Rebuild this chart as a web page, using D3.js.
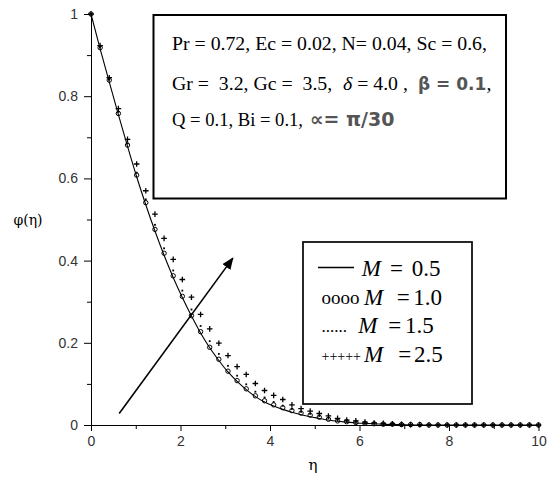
<!DOCTYPE html>
<html>
<head>
<meta charset="utf-8">
<script src="https://cdn.jsdelivr.net/npm/d3@7"></script>
<style>
  body { margin: 0; background: #fff; }
  svg { display: block; }
</style>
</head>
<body>
<svg id="chart" width="560" height="480"></svg>
<script>
// eta grid (50 points from 0 to 10)
var eta = [0, 0.204, 0.408, 0.612, 0.816, 1.020, 1.224, 1.429, 1.633, 1.837,
    2.041, 2.245, 2.449, 2.653, 2.857, 3.061, 3.265, 3.469, 3.673, 3.878,
    4.082, 4.286, 4.490, 4.694, 4.898, 5.102, 5.306, 5.510, 5.714, 5.918,
    6.122, 6.327, 6.531, 6.735, 6.939, 7.143, 7.347, 7.551, 7.755, 7.959,
    8.163, 8.367, 8.571, 8.776, 8.980, 9.184, 9.388, 9.592, 9.796, 10];

// phi(eta) for each M
var phiM05 = [1, 0.915, 0.835, 0.755, 0.678, 0.604, 0.536, 0.472, 0.413, 0.359,
    0.310, 0.265, 0.224, 0.188, 0.157, 0.129, 0.106, 0.086, 0.069, 0.056,
    0.046, 0.038, 0.031, 0.025, 0.020, 0.016, 0.012, 0.009, 0.007, 0.005,
    0.004, 0.003, 0.002, 0.001, 0.001, 0, 0, 0, 0, 0,
    0, 0, 0, 0, 0, 0, 0, 0, 0, 0];
var phiM10 = [1, 0.918, 0.839, 0.758, 0.681, 0.608, 0.541, 0.476, 0.418, 0.363,
    0.313, 0.266, 0.227, 0.189, 0.160, 0.131, 0.108, 0.088, 0.071, 0.059,
    0.049, 0.042, 0.035, 0.029, 0.024, 0.019, 0.014, 0.010, 0.008, 0.006,
    0.004, 0.003, 0.002, 0.002, 0.001, 0.001, 0.001, 0, 0, 0,
    0, 0, 0, 0, 0, 0, 0, 0, 0, 0];
var phiM15 = [1, 0.920, 0.841, 0.762, 0.685, 0.614, 0.549, 0.487, 0.430, 0.376,
    0.327, 0.281, 0.241, 0.204, 0.173, 0.144, 0.120, 0.099, 0.081, 0.067,
    0.056, 0.047, 0.039, 0.032, 0.027, 0.022, 0.017, 0.013, 0.010, 0.008,
    0.006, 0.004, 0.003, 0.002, 0.002, 0.001, 0.001, 0, 0, 0,
    0, 0, 0, 0, 0, 0, 0, 0, 0, 0];
var phiM25 = [1, 0.923, 0.845, 0.770, 0.695, 0.635, 0.570, 0.513, 0.454, 0.403,
    0.354, 0.311, 0.269, 0.234, 0.199, 0.169, 0.142, 0.123, 0.101, 0.084,
    0.072, 0.062, 0.049, 0.040, 0.034, 0.028, 0.022, 0.016, 0.012, 0.010,
    0.007, 0.005, 0.004, 0.003, 0.002, 0.001, 0.001, 0, 0, 0,
    0, 0, 0, 0, 0, 0, 0, 0, 0, 0];

var xTicks = [0, 2, 4, 6, 8, 10];
var xMinor = [1, 3, 5, 7, 9];
var yTicks = [0, 0.2, 0.4, 0.6, 0.8, 1];
var yMinor = [0.1, 0.3, 0.5, 0.7, 0.9];

var svg = d3.select('#chart');

var x = d3.scaleLinear().domain([0, 10]).range([91, 538.5]);
var y = d3.scaleLinear().domain([0, 1]).range([425, 14]);

function pts(vals) {
    return eta.map(function (e, i) { return [e, vals[i]]; });
}

// axes
var tickFont = '"Liberation Sans", Arial, sans-serif';

svg.append('g')
    .attr('transform', 'translate(0,' + y(0) + ')')
    .call(d3.axisBottom(x).tickValues(xTicks).tickSize(6).tickSizeOuter(0).tickPadding(5)
        .tickFormat(d3.format('d')));
svg.append('g')
    .attr('transform', 'translate(0,' + y(0) + ')')
    .call(d3.axisBottom(x).tickValues(xMinor).tickSize(4).tickFormat(''))
    .select('.domain').remove();

svg.append('g')
    .attr('transform', 'translate(' + x(0) + ',0)')
    .call(d3.axisLeft(y).tickValues(yTicks).tickSize(7).tickSizeOuter(0).tickPadding(6)
        .tickFormat(function (d) { return d3.format('~g')(d); }));
svg.append('g')
    .attr('transform', 'translate(' + x(0) + ',0)')
    .call(d3.axisLeft(y).tickValues(yMinor).tickSize(4).tickFormat(''))
    .select('.domain').remove();

svg.selectAll('.tick text')
    .style('font-family', tickFont)
    .style('font-size', '14px')
    .style('fill', '#333');
svg.selectAll('.domain, .tick line').style('stroke', '#000');

// axis titles
svg.append('text')
    .attr('x', 313).attr('y', 470)
    .attr('text-anchor', 'middle')
    .style('font-family', '"DejaVu Serif", serif')
    .style('font-size', '15px')
    .text('η');
svg.append('text')
    .attr('x', 28).attr('y', 225)
    .attr('text-anchor', 'middle')
    .style('font-family', '"DejaVu Serif", serif')
    .style('font-size', '14px')
    .text('φ(η)');

// curves
var line = d3.line()
    .x(function (d) { return x(d[0]); })
    .y(function (d) { return y(d[1]); })
    .curve(d3.curveMonotoneX);

svg.append('path')
    .datum(pts(phiM05))
    .attr('d', line)
    .attr('fill', 'none')
    .attr('stroke', '#000')
    .attr('stroke-width', 1.1);

svg.append('g').selectAll('circle')
    .data(pts(phiM10))
    .enter().append('circle')
    .attr('cx', function (d) { return x(d[0]); })
    .attr('cy', function (d) { return y(d[1]); })
    .attr('r', 2.2)
    .attr('fill', 'none')
    .attr('stroke', '#000')
    .attr('stroke-width', 1);

svg.append('g').selectAll('rect')
    .data(pts(phiM15))
    .enter().append('rect')
    .attr('x', function (d) { return x(d[0]) - 0.9; })
    .attr('y', function (d) { return y(d[1]) - 0.9; })
    .attr('width', 1.8)
    .attr('height', 1.8)
    .attr('fill', '#000');

svg.append('g').selectAll('path')
    .data(pts(phiM25))
    .enter().append('path')
    .attr('d', function (d) {
        var cx = x(d[0]), cy = y(d[1]), s = 2.8;
        return 'M' + (cx - s) + ',' + cy + 'H' + (cx + s) + 'M' + cx + ',' + (cy - s) + 'V' + (cy + s);
    })
    .attr('stroke', '#000')
    .attr('stroke-width', 1.3);

// arrow
svg.append('defs').append('marker')
    .attr('id', 'head')
    .attr('viewBox', '0 0 12 10')
    .attr('refX', 11).attr('refY', 5)
    .attr('markerWidth', 12).attr('markerHeight', 10)
    .attr('markerUnits', 'userSpaceOnUse')
    .attr('orient', 'auto')
    .append('path')
    .attr('d', 'M0,0L12,5L0,10Z')
    .attr('fill', '#000');

var arrowFrom = [0.63, 0.028], arrowTo = [3.17, 0.406];
svg.append('line')
    .attr('x1', x(arrowFrom[0])).attr('y1', y(arrowFrom[1]))
    .attr('x2', x(arrowTo[0])).attr('y2', y(arrowTo[1]))
    .attr('stroke', '#000')
    .attr('stroke-width', 1.6)
    .attr('marker-end', 'url(#head)');

// parameter box
var serif = '"Liberation Serif", "Times New Roman", serif';
var sans = '"DejaVu Sans", Arial, sans-serif';

svg.append('rect')
    .attr('x', 153.5).attr('y', 15).attr('width', 352.5).attr('height', 183.5)
    .attr('fill', '#fff').attr('stroke', '#000').attr('stroke-width', 2);

var info = svg.append('g').style('font-family', serif).style('font-size', '19.8px').style('fill', '#000');
info.append('text').attr('x', 172).attr('y', 50)
    .text('Pr = 0.72, Ec = 0.02, N= 0.04, Sc = 0.6,');

var l2 = info.append('text').attr('x', 172).attr('y', 90).attr('xml:space', 'preserve');
l2.append('tspan').text('Gr =  3.2, Gc =  3.5,');
l2.append('tspan').attr('x', 343).style('font-style', 'italic').text('δ');
l2.append('tspan').text(' = 4.0 ,');
l2.append('tspan').attr('x', 418).style('font-family', sans).style('font-weight', 'bold')
    .style('fill', '#555').style('font-size', '17px').text('β = 0.1');
l2.append('tspan').text(',');

var l3 = info.append('text').attr('x', 172).attr('y', 126);
l3.append('tspan').attr('textLength', 131).attr('lengthAdjust', 'spacingAndGlyphs')
    .text('Q = 0.1, Bi = 0.1,');
l3.append('tspan').attr('x', 310)
    .style('font-family', sans).style('font-weight', 'bold')
    .style('fill', '#555').style('font-size', '19px').text('∝= π/30');

// legend box
svg.append('rect')
    .attr('x', 303).attr('y', 242).attr('width', 169).attr('height', 162)
    .attr('fill', '#fff').attr('stroke', '#111').attr('stroke-width', 1.8);

var legendRows = [
    { sym: 'line', m: 361.7, eq: 390, v: 411.7, val: '0.5' },
    { sym: 'oooo', m: 364, eq: 396.7, v: 413.3, val: '1.0' },
    { sym: '......', m: 358.3, eq: 388.3, v: 405, val: '1.5' },
    { sym: '+++++', m: 364, eq: 398.3, v: 414, val: '2.5' }
];
var leg = svg.append('g').style('font-family', serif).style('fill', '#000');
legendRows.forEach(function (r, i) {
    var by = 276 + i * 28.7;
    if (r.sym === 'line') {
        leg.append('line').attr('x1', 318).attr('x2', 354).attr('y1', by - 8.5).attr('y2', by - 8.5)
            .attr('stroke', '#000').attr('stroke-width', 1.5);
    } else {
        leg.append('text').attr('x', 321.5).attr('y', by - 1)
            .style('font-size', r.sym === '+++++' ? '14px' : (r.sym === 'oooo' ? '19px' : '17px'))
            .text(r.sym);
    }
    leg.append('text').attr('x', r.m).attr('y', by)
        .style('font-size', '23px').style('font-style', 'italic').text('M');
    leg.append('text').attr('x', r.eq).attr('y', by)
        .style('font-size', '23px').text('=');
    leg.append('text').attr('x', r.v).attr('y', by)
        .style('font-size', '23px').text(r.val);
});
</script>
</body>
</html>
